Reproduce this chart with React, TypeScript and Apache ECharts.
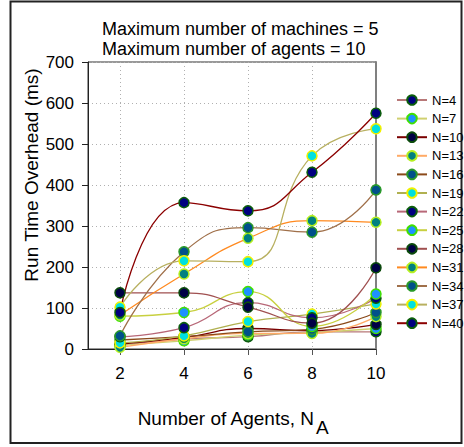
import React, { useEffect, useRef } from "react";
import * as echarts from "echarts";

const agents = [2, 4, 6, 8, 10];
const xTicks = [2, 4, 6, 8, 10];
const seriesNames = ["N=4", "N=7", "N=10", "N=13", "N=16", "N=19", "N=22", "N=25", "N=28", "N=31", "N=34", "N=37", "N=40"];

const n4 = [8, 24, 30, 42, 42];
const n7 = [10, 20, 34, 40, 50];
const n10 = [12, 28, 50, 45, 60];
const n13 = [4, 25, 38, 38, 79];
const n16 = [22, 30, 42, 48, 89];
const n19 = [15, 32, 67, 85, 110];
const n22 = [30, 52, 113, 76, 124];
const n25 = [80, 89, 140, 55, 134];
const n28 = [137, 137, 102, 63, 198];
const n31 = [83, 183, 270, 313, 309];
const n34 = [32, 237, 296, 285, 388];
const n37 = [102, 215, 213, 471, 537];
const n40 = [89, 357, 337, 431, 575];

const seriesValues = [n4, n7, n10, n13, n16, n19, n22, n25, n28, n31, n34, n37, n40];

const lineColors = ["#b87878", "#d0d070", "#7a0000", "#ffaa66", "#8b4a1a", "#b0b050", "#b86878", "#c8d040", "#a05050", "#ff8a20", "#a0704a", "#b8b060", "#8b0000"];
const faceColors = ["#000080", "#1e90ff", "#000046", "#008080", "#00508a", "#00e0e0", "#000080", "#1e90ff", "#000046", "#008080", "#00508a", "#00e0e0", "#000080"];
const edgeColors = ["#0b5e0b", "#40e000", "#0b4a0b", "#b5f020", "#2a9a2a", "#f0f000", "#0b5e0b", "#40e000", "#0b4a0b", "#b5f020", "#2a9a2a", "#f0f000", "#0b5e0b"];

const FONT = "Liberation Sans, Arial, Helvetica, sans-serif";

export default function App() {
  const ref = useRef<HTMLDivElement>(null);
  useEffect(() => {
    if (!ref.current) return;
    const chart = echarts.init(ref.current, undefined, { renderer: "svg" });
    const series = seriesNames.map((name, i) => ({
      name,
      type: "line",
      data: agents.map((a, j) => [a, seriesValues[i][j]]),
      smooth: 0.5,
      symbol: "circle",
      symbolSize: 10,
      lineStyle: { color: lineColors[i], width: 1.3 },
      itemStyle: { color: faceColors[i], borderColor: edgeColors[i], borderWidth: 1.5 },
      emphasis: { disabled: true },
    }));
    chart.setOption({
      animation: false,
      backgroundColor: "#ffffff",
      textStyle: { fontFamily: FONT },
      grid: { left: 88, top: 62, width: 288, height: 287, show: true, borderColor: "#333", borderWidth: 1 },
      legend: {
        orient: "vertical",
        left: 391,
        top: 88.5,
        itemWidth: 30,
        itemHeight: 12,
        itemGap: 5.6,
        data: seriesNames,
        textStyle: { fontSize: 13, lineHeight: 13, color: "#000", fontFamily: FONT },
      },
      xAxis: {
        type: "value",
        min: 1,
        max: 10,
        axisLine: { show: true, onZero: false, lineStyle: { color: "#222", width: 1 } },
        axisTick: { show: true, inside: false, length: 6, customValues: xTicks, lineStyle: { color: "#555" } },
        axisLabel: { customValues: xTicks, fontSize: 17, color: "#000", margin: 16, fontFamily: FONT },
        splitLine: { show: true, lineStyle: { color: "#b0b0b0", type: [1, 3], width: 1 } },
      },
      yAxis: [
        {
          type: "value",
          min: 0,
          max: 700,
          interval: 100,
          axisLine: { show: true, lineStyle: { color: "#222", width: 1 } },
          axisTick: { show: true, inside: false, length: 6, lineStyle: { color: "#222" } },
          axisLabel: { fontSize: 17, color: "#000", margin: 14, fontFamily: FONT },
          splitLine: { show: true, lineStyle: { color: "#b0b0b0", type: [1, 3], width: 1 } },
        },
        {
          type: "value",
          min: 0,
          max: 700,
          interval: 100,
          position: "right",
          axisLine: { show: true, lineStyle: { color: "#808080", width: 2 } },
          axisTick: { show: false },
          axisLabel: { show: false },
          splitLine: { show: false },
        },
      ],
      graphic: [
        { type: "rect", shape: { x: 10.5, y: 1.5, width: 451, height: 441.5 }, style: { fill: "none", stroke: "#222", lineWidth: 2 }, silent: true },
        { type: "text", x: 102, y: 29, style: { text: "Maximum number of machines = 5", font: `18px ${FONT}`, fill: "#000", textAlign: "left", textVerticalAlign: "middle" } },
        { type: "text", x: 102, y: 49, style: { text: "Maximum number of agents = 10", font: `18px ${FONT}`, fill: "#000", textAlign: "left", textVerticalAlign: "middle" } },
        { type: "text", x: 31, y: 175, rotation: Math.PI / 2, style: { text: "Run Time Overhead (ms)", font: `19px ${FONT}`, fill: "#000", textAlign: "center", textVerticalAlign: "middle" } },
        { type: "text", x: 314, y: 418, style: { text: "Number of Agents, N", font: `19px ${FONT}`, fill: "#000", textAlign: "right", textVerticalAlign: "middle" } },
        { type: "text", x: 316, y: 427, style: { text: "A", font: `19px ${FONT}`, fill: "#000", textAlign: "left", textVerticalAlign: "middle" } },
      ],
      series,
    });
    return () => chart.dispose();
  }, []);
  return <div ref={ref} style={{ width: 464, height: 447, position: "absolute", left: 0, top: 0 }} />;
}
